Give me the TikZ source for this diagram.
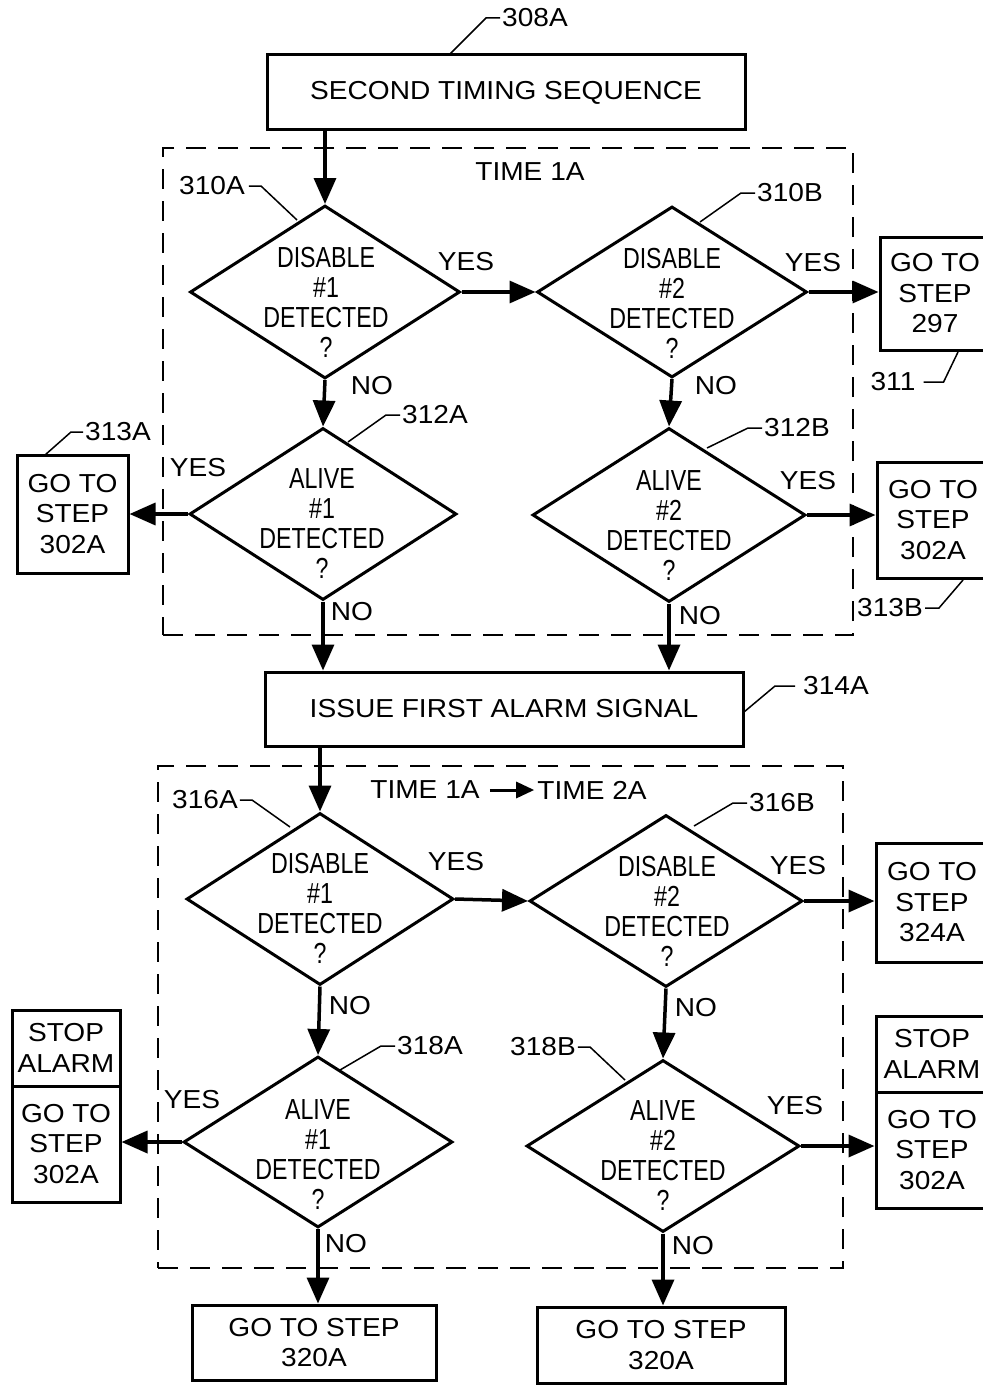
\documentclass[tikz,border=0pt]{standalone}
\usepackage{fontspec}
\setmainfont{Liberation Sans}[FakeStretch=1.08]
\newfontfamily\condfont{Liberation Sans}[FakeStretch=0.8]
\usetikzlibrary{shapes.geometric,arrows.meta}
\begin{document}
\begin{tikzpicture}[x=1pt,y=-1pt,
 box/.style={draw,line width=3pt,inner sep=0pt,font=\fontsize{26}{30.5}\selectfont,align=center},
 dia/.style={draw,diamond,line width=3pt,inner sep=0pt},
 dtext/.style={font=\condfont\fontsize{29}{30}\selectfont,align=center,inner sep=0pt},
 lab/.style={font=\fontsize{26}{30}\selectfont,inner sep=0pt},
 conn/.style={line width=3.5pt,-{Triangle[length=26pt,width=22pt]}},
 smallarrow/.style={line width=3pt,-{Triangle[length=18pt,width=16pt]}},
 leader/.style={line width=1.5pt},
 group/.style={draw,line width=2.5pt,dash pattern=on 20pt off 12pt,inner sep=0pt}]
\useasboundingbox[fill=white] (0,0) rectangle (982,1386);

% group frames
\node[group, minimum width=690pt, minimum height=487pt] (g1) at (508,391.5) {};
\node[group, minimum width=685pt, minimum height=502pt] (g2) at (500.5,1017) {};

% boxes
\node[box, minimum width=478pt, minimum height=75pt] (b308) at (506,92.5) {SECOND TIMING SEQUENCE};
\node[box, minimum width=110pt, minimum height=113pt] (b311) at (935,293.5) {GO TO\\STEP\\297};
\node[box, minimum width=111pt, minimum height=118pt] (b313A) at (72.5,514) {GO TO\\STEP\\302A};
\node[box, minimum width=112pt, minimum height=116pt] (b313B) at (933,520) {GO TO\\STEP\\302A};
\node[box, minimum width=478pt, minimum height=74pt] (b314) at (504,709) {ISSUE FIRST ALARM SIGNAL};
\node[box, minimum width=112pt, minimum height=119pt] (b324) at (932,902.5) {GO TO\\STEP\\324A};
\node[box, minimum width=108pt, minimum height=76pt] (bstopL) at (66,1048) {STOP\\ALARM};
\node[box, minimum width=108pt, minimum height=116pt] (bgoL) at (66,1144) {GO TO\\STEP\\302A};
\node[box, minimum width=112pt, minimum height=76pt] (bstopR) at (932,1054) {STOP\\ALARM};
\node[box, minimum width=112pt, minimum height=116pt] (bgoR) at (932,1150) {GO TO\\STEP\\302A};
\node[box, minimum width=244pt, minimum height=75pt] (b320L) at (314,1342.5) {GO TO STEP\\320A};
\node[box, minimum width=248pt, minimum height=76pt] (b320R) at (661,1345) {GO TO STEP\\320A};

% diamonds
\node[dia, minimum width=270pt, minimum height=173pt] (d310A) at (325,292) {};
\node[dia, minimum width=270pt, minimum height=171pt] (d310B) at (672,292) {};
\node[dia, minimum width=267pt, minimum height=172pt] (d312A) at (323,514) {};
\node[dia, minimum width=273pt, minimum height=174pt] (d312B) at (669,515) {};
\node[dia, minimum width=267pt, minimum height=172pt] (d316A) at (320,899) {};
\node[dia, minimum width=273pt, minimum height=172pt] (d316B) at (666,901) {};
\node[dia, minimum width=269pt, minimum height=171pt] (d318A) at (318,1142) {};
\node[dia, minimum width=273pt, minimum height=172pt] (d318B) at (663,1146) {};

% diamond texts
\node[dtext] (t310A) at (326,302) {DISABLE\\\#1\\DETECTED\\?};
\node[dtext] (t310B) at (672,303) {DISABLE\\\#2\\DETECTED\\?};
\node[dtext] (t312A) at (322,524) {ALIVE\\\#1\\DETECTED\\?};
\node[dtext] (t312B) at (669,526) {ALIVE\\\#2\\DETECTED\\?};
\node[dtext] (t316A) at (320,908) {DISABLE\\\#1\\DETECTED\\?};
\node[dtext] (t316B) at (667,911) {DISABLE\\\#2\\DETECTED\\?};
\node[dtext] (t318A) at (318,1155) {ALIVE\\\#1\\DETECTED\\?};
\node[dtext] (t318B) at (663,1156) {ALIVE\\\#2\\DETECTED\\?};

% connectors
\draw[conn] (b308.south -| d310A.north) -- (d310A.north);
\draw[conn] (d310A.east) -- (d310B.west);
\draw[conn] (d310B.east) -- (d310B.east -| b311.west);
\draw[conn] (d310A.south) -- (d312A.north);
\draw[conn] (d310B.south) -- (d312B.north);
\draw[conn] (d312A.west) -- (d312A.west -| b313A.east);
\draw[conn] (d312B.east) -- (d312B.east -| b313B.west);
\draw[conn] (d312A.south) -- (d312A.south |- b314.north);
\draw[conn] (d312B.south) -- (d312B.south |- b314.north);
\draw[conn] (b314.south -| d316A.north) -- (d316A.north);
\draw[conn] (d316A.east) -- (d316B.west);
\draw[conn] (d316B.east) -- (d316B.east -| b324.west);
\draw[conn] (d316A.south) -- (d318A.north);
\draw[conn] (d316B.south) -- (d318B.north);
\draw[conn] (d318A.west) -- (d318A.west -| bgoL.east);
\draw[conn] (d318B.east) -- (d318B.east -| bgoR.west);
\draw[conn] (d318A.south) -- (d318A.south |- b320L.north);
\draw[conn] (d318B.south) -- (d318B.south |- b320R.north);

% YES / NO labels
\node[lab] (y1) at (466,262) {YES};
\node[lab] (y2) at (813,263) {YES};
\node[lab] (n1) at (372,386) {NO};
\node[lab] (n2) at (716,386) {NO};
\node[lab] (y3) at (198,468) {YES};
\node[lab] (y4) at (808,481) {YES};
\node[lab] (n3) at (352,612) {NO};
\node[lab] (n4) at (700,616) {NO};
\node[lab] (y5) at (456,862) {YES};
\node[lab] (y6) at (798,866) {YES};
\node[lab] (n5) at (350,1006) {NO};
\node[lab] (n6) at (696,1008) {NO};
\node[lab] (y7) at (192,1100) {YES};
\node[lab] (y8) at (795,1106) {YES};
\node[lab] (n7) at (346,1244) {NO};
\node[lab] (n8) at (693,1246) {NO};

% time labels
\node[lab] (time1) at (530,172) {TIME 1A};
\node[lab] (time1b) at (425,790) {TIME 1A};
\node[lab] (time2) at (592,790) {TIME 2A};
\draw[smallarrow] ([xshift=10pt]time1b.east) -- ([xshift=-3pt]time2.west);

% reference numerals with leaders
\node[lab] (l308) at (535,18) {308A};
\coordinate (c308) at (449,55);
\draw[leader] ([xshift=-2pt]l308.west) -- ++(-14,0) -- (c308);

\node[lab] (l310A) at (212,186) {310A};
\coordinate (c310A) at (297,220);
\draw[leader] ([xshift=4pt]l310A.east) -- ++(12,0) -- (c310A);

\node[lab] (l310B) at (790,193) {310B};
\coordinate (c310B) at (700,222);
\draw[leader] ([xshift=-2pt]l310B.west) -- ++(-14,0) -- (c310B);

\node[lab] (l311) at (893,382) {311};
\coordinate (c311) at (958,352);
\draw[leader] ([xshift=8pt]l311.east) -- ++(20,0) -- (c311);

\node[lab] (l312A) at (435,415) {312A};
\coordinate (c312A) at (348,442);
\draw[leader] ([xshift=-2pt]l312A.west) -- ++(-14,0) -- (c312A);

\node[lab] (l312B) at (797,428) {312B};
\coordinate (c312B) at (707,448);
\draw[leader] ([xshift=-2pt]l312B.west) -- ++(-14,0) -- (c312B);

\node[lab] (l313A) at (118,432) {313A};
\coordinate (c313A) at (45,455);
\draw[leader] ([xshift=-2pt]l313A.west) -- ++(-12,0) -- (c313A);

\node[lab] (l313B) at (890,608) {313B};
\coordinate (c313B) at (963,580);
\draw[leader] ([xshift=2pt]l313B.east) -- ++(14,0) -- (c313B);

\node[lab] (l314) at (836,686) {314A};
\coordinate (c314) at (744,712);
\draw[leader] ([xshift=-8pt]l314.west) -- ++(-20,0) -- (c314);

\node[lab] (l316A) at (205,800) {316A};
\coordinate (c316A) at (290,827);
\draw[leader] ([xshift=2pt]l316A.east) -- ++(12,0) -- (c316A);

\node[lab] (l316B) at (782,803) {316B};
\coordinate (c316B) at (694,826);
\draw[leader] ([xshift=-2pt]l316B.west) -- ++(-14,0) -- (c316B);

\node[lab] (l318A) at (430,1046) {318A};
\coordinate (c318A) at (340,1070);
\draw[leader] ([xshift=-2pt]l318A.west) -- ++(-14,0) -- (c318A);

\node[lab] (l318B) at (543,1047) {318B};
\coordinate (c318B) at (625,1080);
\draw[leader] ([xshift=2pt]l318B.east) -- ++(12,0) -- (c318B);
\end{tikzpicture}
\end{document}
